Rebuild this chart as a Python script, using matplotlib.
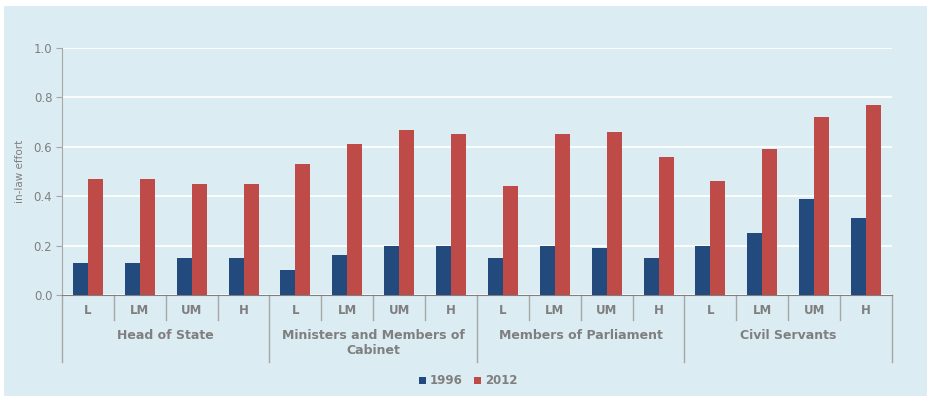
import matplotlib
matplotlib.use("Agg")
import matplotlib.pyplot as plt
import numpy as np
from matplotlib.patches import Rectangle

groups = ["Head of State", "Ministers and Members of\nCabinet", "Members of Parliament", "Civil Servants"]
subcats = ["L", "LM", "UM", "H"]
v1996 = [0.13, 0.13, 0.15, 0.15,
         0.10, 0.16, 0.20, 0.20,
         0.15, 0.20, 0.19, 0.15,
         0.20, 0.25, 0.39, 0.31]
v2012 = [0.47, 0.47, 0.45, 0.45,
         0.53, 0.61, 0.67, 0.65,
         0.44, 0.65, 0.66, 0.56,
         0.46, 0.59, 0.72, 0.77]
yticks = [0.0, 0.2, 0.4, 0.6, 0.8, 1.0]

W, H = 928, 396
bg = "#dcecf3"
c96 = "#234a7c"
c12 = "#be4b48"
gray = "#7f7f7f"
lgray = "#a6a6a6"

fig = plt.figure(figsize=(W/100, H/100), dpi=100, facecolor="white")
fig.patches.append(Rectangle((4/W, 0), 1-4/W, 1-6/H, transform=fig.transFigure,
                             facecolor=bg, edgecolor="none", zorder=-10))

x0, x1, y0, y1 = 62, 892, 295, 48
ax = fig.add_axes([x0/W, 1-y0/H, (x1-x0)/W, (y0-y1)/H])
ax.set_facecolor("none")
n = len(v1996)
x = np.arange(n)
bw = 0.29
ax.bar(x - bw/2, v1996, bw, color=c96, zorder=3, label="1996")
ax.bar(x + bw/2, v2012, bw, color=c12, zorder=3, label="2012")
ax.set_xlim(-0.5, n-0.5)
ax.set_ylim(0, 1.0)
ax.set_yticks(yticks)
ax.set_yticklabels([f"{t:.1f}" for t in yticks], color=gray, fontsize=8.5)
ax.yaxis.grid(True, color="white", linewidth=1.3, zorder=1)
ax.set_axisbelow(True)
for s in ["top", "right"]:
    ax.spines[s].set_visible(False)
ax.spines["left"].set_color(lgray)
ax.spines["bottom"].set_color(gray)
ax.tick_params(axis="y", length=4, color=lgray, pad=3)
ax.tick_params(axis="x", length=0)
ax.set_xticks([])
ax.set_ylabel("in-law effort", color=gray, fontsize=7.5, labelpad=6)

# sub-category labels and separators
trans = ax.get_xaxis_transform()
def fy(py):
    return -(py - y0) / (y0 - y1)
for i in range(n):
    ax.text(i, fy(310), subcats[i % 4], ha="center", va="center", color=gray,
            fontsize=8.5, fontweight="bold", transform=trans)
for b in range(n + 1):
    if b % 4 == 0:
        ax.plot([b-0.5, b-0.5], [0, fy(362)], color=lgray, lw=1, transform=trans, clip_on=False)
    else:
        ax.plot([b-0.5, b-0.5], [0, fy(320)], color=lgray, lw=1, transform=trans, clip_on=False)
for g, name in enumerate(groups):
    ax.text(g*4 + 1.5, fy(329), name, ha="center", va="top", color=gray,
            fontsize=9, fontweight="bold", transform=trans, linespacing=1.2)

leg = fig.legend(loc="center", bbox_to_anchor=(468/W, 1-381/H), ncol=2, frameon=False,
                 fontsize=8.5, handlelength=0.6, handleheight=0.6, handletextpad=0.3,
                 columnspacing=1.0)
for t in leg.get_texts():
    t.set_color(gray)
    t.set_fontweight("bold")

fig.savefig("out.png", dpi=100, facecolor="white")
